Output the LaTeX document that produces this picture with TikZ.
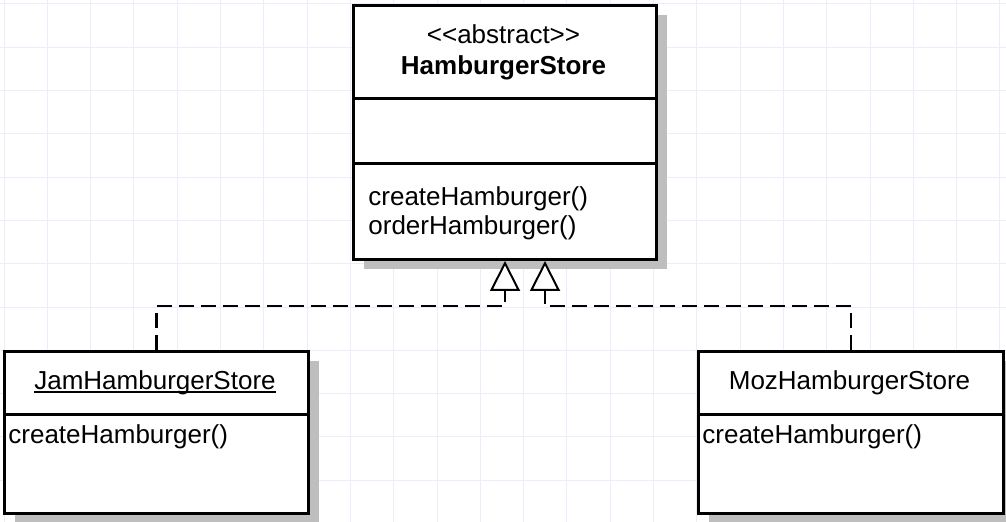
\documentclass[tikz,border=0pt]{standalone}
\usepackage{fontspec}
\setmainfont{Liberation Sans}
\usetikzlibrary{arrows.meta,shadows}
\definecolor{gridc}{RGB}{236,236,250}
\definecolor{shadowgray}{RGB}{190,190,190}
\newcommand{\objname}[1]{\setbox0\hbox{#1}\rlap{\vrule width\wd0 height -0.8pt depth 1.6pt}#1}

\tikzset{
  gridline/.style={gridc, line width=0.5pt},
  classbox/.style={draw, line width=1.5pt, fill=white, inner sep=0pt, anchor=north west,
    drop shadow={shadow xshift=5pt, shadow yshift=-5pt, fill=shadowgray, opacity=1}},
  divider/.style={line width=1.5pt},
  umltext/.style={font=\fontsize{13}{14.5}\selectfont, inner sep=0pt},
  realize/.style={line width=1.1pt, dash pattern=on 7.5pt off 3.5pt,
    -{Triangle[length=15pt,width=15pt,fill=white,line width=1pt]}}
}

\begin{document}
\begin{tikzpicture}[x=0.5pt,y=-0.5pt]
  % fondo y rejilla
  \fill[white] (0,0) rectangle (1006,522);
  \useasboundingbox (0,0) rectangle (1006,522);
  \foreach \k in {0,...,23} \draw[gridline] (4+43.3*\k,0) -- (4+43.3*\k,522);
  \foreach \k in {0,...,11} \draw[gridline] (0,4+43.3*\k) -- (1006,4+43.3*\k);

  % clase abstracta
  \node[classbox, minimum width=151.5pt, minimum height=127pt] (store) at (352,4) {};
  \draw[divider] (store.west |- 0,99) -- (store.east |- 0,99);
  \draw[divider] (store.west |- 0,164) -- (store.east |- 0,164);
  \node[umltext, align=center] (storename) at (503.5,52)
    {{<}{<}abstract{>}{>}\\[1pt]\textbf{HamburgerStore}};
  \node[umltext, align=left, anchor=west] (storeops) at (368,213.5)
    {createHamburger()\\orderHamburger()};

  % clases concretas
  \node[classbox, minimum width=152pt, minimum height=81pt] (jam) at (3,350) {};
  \draw[divider] (jam.west |- 0,415) -- (jam.east |- 0,415);
  \node[umltext] (jamname) at (155,383) {\objname{JamHamburgerStore}};
  \node[umltext, anchor=west] (jamops) at (8,437) {createHamburger()};

  \node[classbox, minimum width=152.5pt, minimum height=81pt] (moz) at (697,350) {};
  \draw[divider] (moz.west |- 0,415) -- (moz.east |- 0,415);
  \node[umltext] (mozname) at (849.5,383) {MozHamburgerStore};
  \node[umltext, anchor=west] (mozops) at (702,437) {createHamburger()};

  % realizaciones
  \coordinate (storeL) at (store.south);
  \coordinate (storeR) at ([xshift=20pt]store.south);
  \draw[realize] (jam.north) -- ++(0,-44) -| (storeL);
  \draw[realize] (moz.north) -- ++(0,-44) -| (storeR);
\end{tikzpicture}
\end{document}
